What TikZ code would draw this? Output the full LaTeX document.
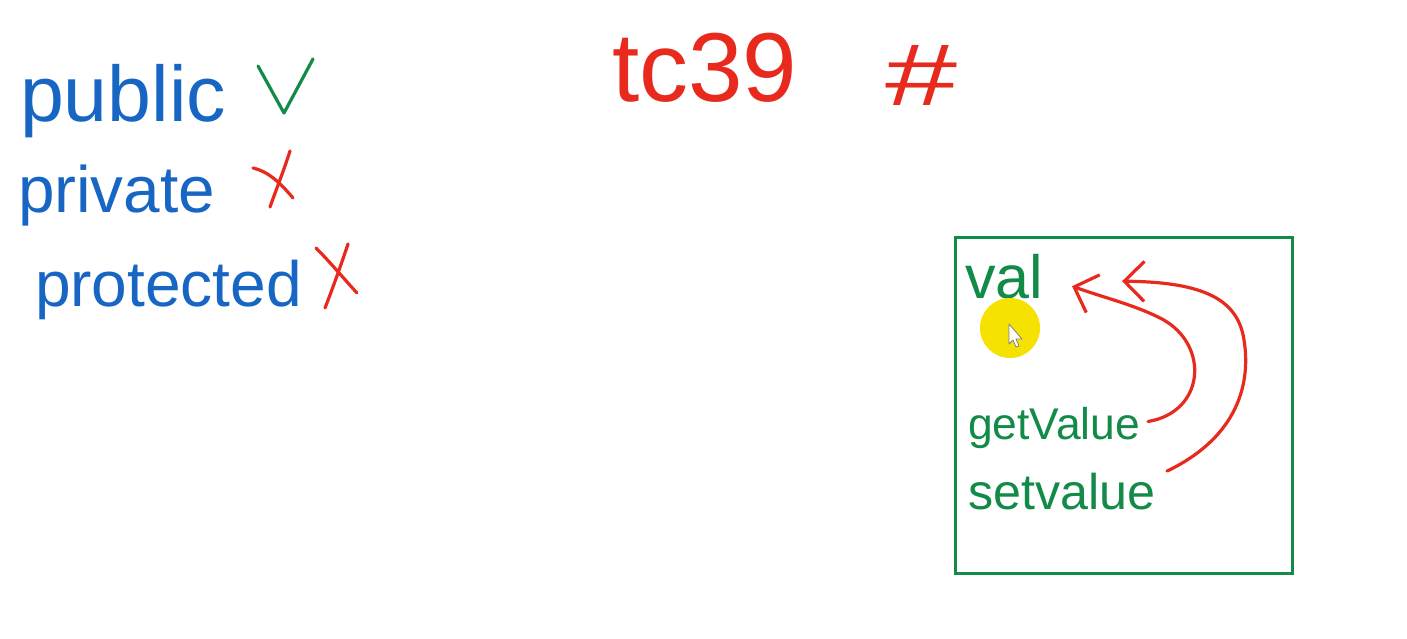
\documentclass[tikz,border=0pt]{standalone}
\usepackage{fontspec}
\setmainfont{Liberation Sans}
\usepackage{graphicx}
\usetikzlibrary{arrows.meta,calc}
\definecolor{penblue}{RGB}{24,102,196}
\definecolor{pengreen}{RGB}{18,138,72}
\definecolor{penred}{RGB}{232,42,30}
\definecolor{hiyellow}{RGB}{246,226,0}
\newcommand{\hw}[2]{\resizebox{#1pt}{!}{#2}}
\tikzset{
  word/.style={inner sep=0pt, outer sep=0pt, anchor=base west},
  pen/.style={line width=3.2pt, line cap=round, line join=round},
  redarrow/.style={pen, draw=penred, -{Straight Barb[length=20pt,width=40pt,line width=3.2pt]}},
  classbox/.style={draw=pengreen, line width=3pt}
}
\begin{document}
\begin{tikzpicture}[x=1pt,y=-1pt]
\useasboundingbox (0,0) rectangle (1407,639);
\fill[white] (0,0) rectangle (1407,639);
% left list
\node[word, text=penblue] (public) at (20,122) {\hw{206}{public}};
\node[word, text=penblue] (private) at (18,212) {\hw{197}{private}};
\node[word, text=penblue] (protected) at (35,306) {\hw{267}{protected}};
% marks
\draw[pen, draw=pengreen] (258,66) -- (284,113) -- (313,59);
\draw[pen, draw=penred] (253,168) .. controls (270,172) and (282,185) .. (293,198);
\draw[pen, draw=penred] (290,151) .. controls (284,170) and (276,190) .. (270,207);
\draw[pen, draw=penred] (316,248) .. controls (330,262) and (345,280) .. (357,293);
\draw[pen, draw=penred] (348,244) .. controls (340,268) and (332,290) .. (325,308);
% title
\node[word, text=penred] (tc) at (612,102) {\hw{185}{tc39}};
\node[inner sep=0pt, outer sep=0pt, anchor=north west, text=penred] (hash) at (885,45) {\resizebox*{72pt}{60pt}{\#}};
% class box
\draw[classbox] (955,237) rectangle (1292,573);
\node[word, text=pengreen] (val) at (965,298) {\hw{78}{val}};
\node[word, text=pengreen] (getv) at (968,439) {\hw{172}{getValue}};
\node[word, text=pengreen] (setv) at (968,509) {\hw{187}{setvalue}};
% cursor highlight
\fill[hiyellow] (1010,328) circle (30);
\draw[fill=white, draw=gray, line width=0.8pt, line join=round]
  (1009,324) -- (1009,344) -- (1013,340) -- (1016,347) -- (1019,346) -- (1016,339) -- (1022,339) -- cycle;
% arrows
\draw[redarrow] ($(getv.east)+(8,-6)$) .. controls (1205,412) and (1210,345) .. (1162,319)
  .. controls (1135,305) and (1105,298) .. ($(val.east)+(29,10)$);
\draw[redarrow] ($(setv.east)+(12,-20)$) .. controls (1232,440) and (1252,390) .. (1244,340)
  .. controls (1238,300) and (1205,282) .. ($(val.east)+(79,5)$);
\end{tikzpicture}
\end{document}
